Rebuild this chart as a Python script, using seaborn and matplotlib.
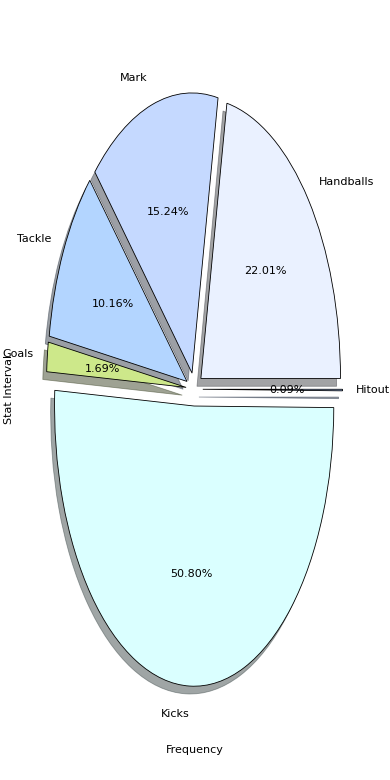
import matplotlib
matplotlib.use('Agg')
import matplotlib.pyplot as plt
import seaborn as sns

# Datos del gráfico (conteos por estadística)
stats = ['Handballs', 'Mark', 'Tackle', 'Goals', 'Kicks', 'Hitout']
frequency = [247, 171, 114, 19, 570, 1]
colores = ['#EAF1FF', '#C5D9FF', '#B3D5FF', '#CDE88A', '#DAFFFF', '#9FC3FF']
explode = [0.06, 0.06, 0.06, 0.06, 0.06, 0.06]

sns.set_style('white', {'text.color': 'black'})
plt.rcParams['font.family'] = ['DejaVu Sans']
palette = sns.color_palette(colores)

fig, ax = plt.subplots(figsize=(3.9, 7.8), dpi=100)
ax.pie(frequency, labels=stats, colors=palette, explode=explode,
       autopct='%1.2f%%', shadow=True, startangle=0,
       wedgeprops={'edgecolor': 'black', 'linewidth': 0.6},
       textprops={'fontsize': 8, 'color': 'black'})
ax.set_aspect('auto')
ax.set_xlabel('Frequency', fontsize=8, color='black')
ax.set_ylabel('Stat Interval', fontsize=8, color='black')
plt.subplots_adjust(left=0.051, right=0.946, top=0.95, bottom=0.052)
plt.savefig('out.png')
